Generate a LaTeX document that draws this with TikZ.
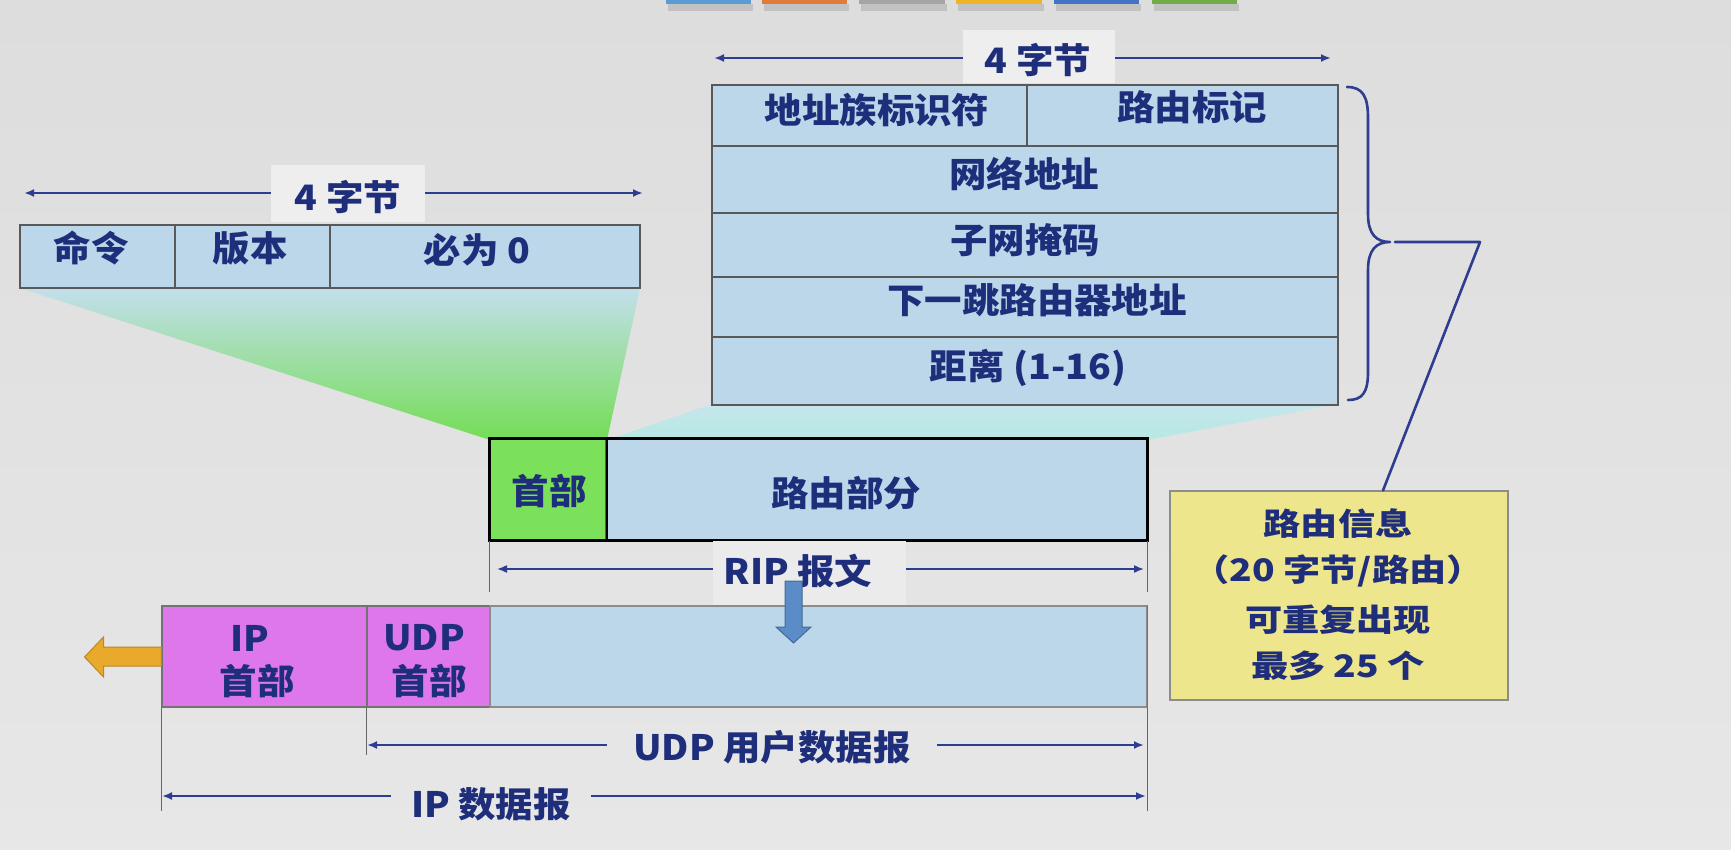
\documentclass[tikz,border=0pt]{standalone}
\usepackage{fontspec}
\setmainfont{Noto Sans CJK SC}[FakeStretch=1.07]
\newfontfamily\yfont{Noto Sans CJK SC}[FakeStretch=1.2]
\usetikzlibrary{arrows.meta}
\definecolor{bgc}{HTML}{E7E7E7}
\definecolor{bgtop}{HTML}{DDDDDD}
\definecolor{cellc}{HTML}{BDD7EA}
\definecolor{navy}{HTML}{1F2E7A}
\definecolor{linec}{HTML}{2E3D8F}
\definecolor{greenc}{HTML}{7BE05A}
\definecolor{magc}{HTML}{DE78EA}
\definecolor{yelc}{HTML}{EEE68C}
\definecolor{orc}{HTML}{E9A92C}
\definecolor{arrb}{HTML}{5A8DC8}
\definecolor{lblc}{HTML}{EEEEEE}
\definecolor{lblsoft}{HTML}{EBEBEB}
\definecolor{fanA}{HTML}{C3DFEC}
\definecolor{fanB}{HTML}{A8E2C8}
\definecolor{fanC}{HTML}{74DD55}
\definecolor{fanD}{HTML}{C6E6EC}
\definecolor{fanE}{HTML}{B6E8E4}
\definecolor{barA}{HTML}{5B9BD5}
\definecolor{barB}{HTML}{E07B39}
\definecolor{barC}{HTML}{A5A5A5}
\definecolor{barD}{HTML}{F0B323}
\definecolor{barE}{HTML}{4472C4}
\definecolor{barF}{HTML}{70AD47}
\begin{document}
\begin{tikzpicture}[x=1pt,y=-1pt,
  cell/.style={draw=black!65, line width=1.2pt, fill=cellc, inner sep=0pt, anchor=center},
  txt/.style={text=navy, font=\fontsize{35}{40}\selectfont\bfseries, inner sep=0pt},
  ytxt/.style={text=navy, font=\yfont\fontsize{31}{36}\selectfont\bfseries, inner sep=0pt},
  lblbox/.style={fill=lblc, inner sep=0pt},
  dimline/.style={draw=linec, line width=2pt, -{Latex[length=10pt,width=8pt]}},
  tickline/.style={draw=black!60, line width=1pt},
  braceline/.style={draw=linec, line width=2.6pt, line cap=round, line join=round}]
\useasboundingbox (0,0) rectangle (1731,850);
\shade[top color=bgtop, bottom color=bgc] (0,0) rectangle (1731,850);

% top colour bars
\foreach \xa/\xb/\c in {666/751/barA,762/847/barB,859/945/barC,956/1042/barD,1054/1139/barE,1152/1237/barF}{
  \fill[black,opacity=0.12] (\xa+2,4) rectangle (\xb+2,11);
  \fill[\c] (\xa,0) rectangle (\xb,4);
}

% fans
\shade[top color=fanA, middle color=fanB, bottom color=fanC] (20,288) -- (640,288) -- (607,440) -- (490,440) -- cycle;
\shade[top color=fanD, bottom color=fanE] (712,404) -- (1338,404) -- (1147,440) -- (607,440) -- cycle;

% header table
\node[cell, minimum width=155pt, minimum height=63pt] (cmd) at (97.5,256.5) {};
\node[cell, minimum width=155pt, minimum height=63pt] (ver) at (252.5,256.5) {};
\node[cell, minimum width=310pt, minimum height=63pt] (zero) at (485,256.5) {};
\node[txt] (tcmd) at (91,248) {命令};
\node[txt] (tver) at (250,248) {版本};
\node[txt] (tzero) at (477,250) {必为 0};
\node[lblbox, minimum width=154pt, minimum height=57pt] (lb1) at (348,193.5) {};
\node[txt] (t4a) at (348,197) {4 字节};
\coordinate (a1L) at (24,193);
\coordinate (a1R) at (643,193);
\draw[dimline] (a1L -| lb1.west) -- (a1L);
\draw[dimline] (a1R -| lb1.east) -- (a1R);

% routing entry table
\node[cell, minimum width=315pt, minimum height=61pt] (afi) at (869.5,115.5) {};
\node[cell, minimum width=311pt, minimum height=61pt] (tag) at (1182.5,115.5) {};
\node[cell, minimum width=626pt, minimum height=67pt] (net) at (1025,179.5) {};
\node[cell, minimum width=626pt, minimum height=64pt] (mask) at (1025,245) {};
\node[cell, minimum width=626pt, minimum height=60pt] (nhop) at (1025,307) {};
\node[cell, minimum width=626pt, minimum height=68pt] (dist) at (1025,371) {};
\node[txt] (tafi) at (877,110) {地址族标识符};
\node[txt] (ttag) at (1192,107) {路由标记};
\node[txt] (tnet) at (1024,174) {网络地址};
\node[txt] (tmask) at (1025,240) {子网掩码};
\node[txt] (tnhop) at (1037,300) {下一跳路由器地址};
\node[txt] (tdist) at (1028,368) {距离 (1-16)};
\node[lblbox, minimum width=152pt, minimum height=53pt] (lb2) at (1039,56.5) {};
\node[txt] (t4b) at (1038,60) {4 字节};
\coordinate (a2L) at (714,58);
\coordinate (a2R) at (1331,58);
\draw[dimline] (a2L -| lb2.west) -- (a2L);
\draw[dimline] (a2R -| lb2.east) -- (a2R);

% brace and callout
\coordinate (btip) at (1390,242);
\draw[braceline] (1347,87) .. controls (1363,87) and (1368,97) .. (1368,118) -- (1368,214)
  .. controls (1368,234) and (1376,242) .. (btip)
  .. controls (1376,242) and (1368,250) .. (1368,270) -- (1368,372)
  .. controls (1368,393) and (1362,400) .. (1348,400);
\node[draw=black!45, line width=1.2pt, fill=yelc, minimum width=338pt, minimum height=209pt, inner sep=0pt] (info) at (1339,595.5) {};
\node[ytxt] (ti1) at (1338,524) {路由信息};
\node[ytxt] (ti2) at (1338,571) {（20 字节/路由）};
\node[ytxt] (ti3) at (1338,620) {可重复出现};
\node[ytxt] (ti4) at (1338,666) {最多 25 个};
\coordinate (bend) at (1480,242);
\draw[braceline] ([xshift=5pt]btip) -- (bend) -- ([xshift=44pt]info.north);

% RIP message
\node[cell, fill=greenc, minimum width=116pt, minimum height=101pt] (hdr) at (548,489.5) {};
\node[cell, minimum width=541pt, minimum height=101pt] (route) at (876.5,489.5) {};
\draw[black, line width=3pt] (hdr.north west) rectangle (route.south east);
\draw[black, line width=2pt] (hdr.north east) -- (hdr.south east);
\node[txt] (thdr) at (549,491) {首部};
\node[txt] (troute) at (846,493) {路由部分};
\draw[tickline] (hdr.south west) -- ++(0,51);
\draw[tickline] (route.south east) -- ++(0,51);
\node[lblbox, fill=lblsoft, minimum width=193pt, minimum height=64pt] (lb3) at (809.5,573) {};
\node[txt] (trip) at (798,571) {RIP 报文};
\coordinate (a3L) at (497,569);
\coordinate (a3R) at (1144,569);
\draw[dimline, line width=1.6pt] (a3L -| lb3.west) -- (a3L);
\draw[dimline, line width=1.6pt] (a3R -| lb3.east) -- (a3R);

% bottom IP datagram
\node[cell, fill=magc, draw=black!55, minimum width=205pt, minimum height=101pt] (iph) at (264.5,656.5) {};
\node[cell, fill=magc, draw=black!55, minimum width=123pt, minimum height=101pt] (udph) at (428.5,656.5) {};
\node[cell, draw=black!45, minimum width=657pt, minimum height=101pt] (data) at (818.5,656.5) {};
\draw[magc!70!black, line width=1.5pt] (data.north east) -- (data.south east);
\node[txt] (tip1) at (250,638) {IP};
\node[txt] (tip2) at (257,681) {首部};
\node[txt] (tudp1) at (424,638) {UDP};
\node[txt] (tudp2) at (429,681) {首部};

% blue down arrow
\filldraw[fill=arrb, draw=arrb!75!black, line width=1pt] (785,581) -- (802,581) -- (802,627) -- (811,627) -- (793.5,643) -- (776,627) -- (785,627) -- cycle;

% orange left arrow
\filldraw[fill=orc, draw=orc!80!black, line width=1pt] (iph.west |- 0,647) -- (103.5,647) -- (103.5,637) -- (84.5,657) -- (103.5,677) -- (103.5,666) -- (iph.west |- 0,666) -- cycle;

% dimension lines below
\draw[tickline] (udph.south west) -- ++(0,47);
\draw[tickline] (iph.south west) -- ++(0,103);
\draw[tickline] (data.south east) -- ++(0,103);
\node[txt, minimum width=330pt] (tudp) at (772,747) {UDP 用户数据报};
\coordinate (a4L) at (367,745);
\coordinate (a4R) at (1144,745);
\draw[dimline] (a4L -| tudp.west) -- (a4L);
\draw[dimline] (a4R -| tudp.east) -- (a4R);
\node[txt, minimum width=200pt] (tipd) at (491,804) {IP 数据报};
\coordinate (a5L) at (162,796);
\coordinate (a5R) at (1146,796);
\draw[dimline] (a5L -| tipd.west) -- (a5L);
\draw[dimline] (a5R -| tipd.east) -- (a5R);
\end{tikzpicture}
\end{document}
